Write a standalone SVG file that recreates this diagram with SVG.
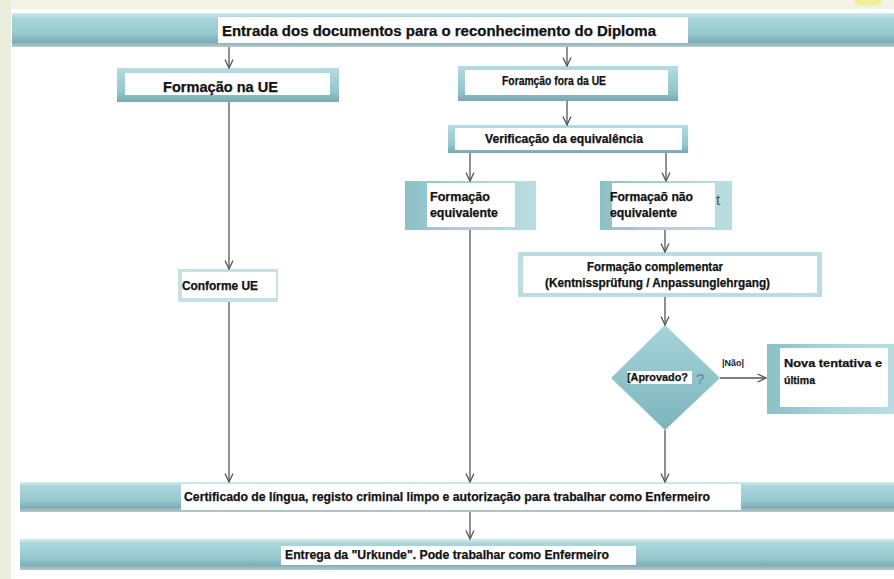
<svg xmlns="http://www.w3.org/2000/svg" width="894" height="579" viewBox="0 0 894 579">
<style>
.t{font-family:"Liberation Sans Narrow","Liberation Sans",Arial,sans-serif;font-weight:bold;fill:#111;stroke:#111;stroke-width:0.25}
.c{stroke:#555;stroke-width:1.3;fill:none}
.w{fill:#fff}
</style>
<defs>
<linearGradient id="band" x1="0" y1="0" x2="0" y2="1">
<stop offset="0" stop-color="#d3ebee"/>
<stop offset="0.15" stop-color="#a8d6dc"/>
<stop offset="0.6" stop-color="#98c9cf"/>
<stop offset="0.85" stop-color="#7eafb7"/>
<stop offset="1" stop-color="#b9c9cc"/>
</linearGradient>
<linearGradient id="box" x1="0" y1="0" x2="0" y2="1">
<stop offset="0" stop-color="#b3dce1"/>
<stop offset="0.7" stop-color="#93c6cd"/>
<stop offset="1" stop-color="#7aa9b0"/>
</linearGradient>
<linearGradient id="boxh" x1="0" y1="0" x2="1" y2="0">
<stop offset="0" stop-color="#8cc0c7"/>
<stop offset="0.5" stop-color="#a9d5da"/>
<stop offset="1" stop-color="#b9dde1"/>
</linearGradient>
<linearGradient id="dia" x1="0" y1="0" x2="0" y2="1">
<stop offset="0" stop-color="#a4d4da"/>
<stop offset="1" stop-color="#7db4bc"/>
</linearGradient>
<marker id="ah" viewBox="0 0 10 10" refX="9.5" refY="5" markerWidth="10" markerHeight="10" markerUnits="userSpaceOnUse" orient="auto">
<path d="M1,1 L9.5,5 L1,9" fill="none" stroke="#555" stroke-width="1.3"/>
</marker>
</defs>
<rect x="0" y="0" width="894" height="579" fill="#fff"/>
<rect x="0" y="0" width="894" height="9" fill="#f3f4e6"/>
<rect x="0" y="0" width="11" height="579" fill="#eceedd"/>
<ellipse cx="868" cy="2" rx="14" ry="4" fill="#f2ee9c"/>

<g id="n-entrada">
<rect x="12" y="13" width="882" height="34" fill="url(#band)"/>
<rect x="218" y="17" width="470" height="26" class="w"/>
<text class="t" x="222" y="36" font-size="14" textLength="434" lengthAdjust="spacingAndGlyphs">Entrada dos documentos para o reconhecimento do Diploma</text>
</g>

<g id="n-formacao-ue">
<rect x="117" y="68" width="222" height="34" fill="url(#box)"/>
<rect x="125" y="73" width="205" height="22" class="w"/>
<text class="t" x="163" y="92" font-size="14" textLength="115" lengthAdjust="spacingAndGlyphs">Formação na UE</text>
</g>

<g id="n-fora-ue">
<rect x="458" y="66" width="220" height="35" fill="url(#box)"/>
<rect x="465" y="70" width="203" height="25" class="w"/>
<text class="t" x="502" y="85" font-size="12" textLength="104" lengthAdjust="spacingAndGlyphs">Foramção fora da UE</text>
</g>

<g id="n-verificacao">
<rect x="448" y="125" width="240" height="28" fill="url(#box)"/>
<rect x="455" y="128" width="227" height="22" class="w"/>
<text class="t" x="485" y="143" font-size="12" textLength="158" lengthAdjust="spacingAndGlyphs">Verificação da equivalência</text>
</g>

<g id="n-equivalente">
<rect x="405" y="181" width="131" height="49" fill="url(#boxh)"/>
<rect x="427" y="183" width="88" height="44" class="w"/>
<text class="t" x="430" y="201" font-size="12" textLength="60" lengthAdjust="spacingAndGlyphs">Formação</text>
<text class="t" x="430" y="217" font-size="12" textLength="68" lengthAdjust="spacingAndGlyphs">equivalente</text>
</g>

<g id="n-nao-equivalente">
<rect x="600" y="181" width="132" height="49" fill="url(#boxh)"/>
<rect x="612" y="183" width="103" height="44" class="w"/>
<text class="t" x="610" y="201" font-size="12" textLength="83" lengthAdjust="spacingAndGlyphs">Formaçaõ não</text>
<text class="t" x="610" y="217" font-size="12" textLength="67" lengthAdjust="spacingAndGlyphs">equivalente</text>
<text x="716" y="205" font-family="Liberation Sans,Arial,sans-serif" font-size="15" fill="#555">t</text>
</g>

<g id="n-complementar">
<rect x="518" y="252" width="304" height="45" fill="#b9dde2"/>
<rect x="523" y="256" width="294" height="37" class="w"/>
<text class="t" x="587" y="271" font-size="12" textLength="136" lengthAdjust="spacingAndGlyphs">Formação complementar</text>
<text class="t" x="545" y="287" font-size="12" textLength="225" lengthAdjust="spacingAndGlyphs">(Kentnissprüfung / Anpassunglehrgang)</text>
</g>

<g id="n-aprovado">
<polygon points="665,325 720,378 665,430 611,378" fill="url(#dia)"/>
<rect x="627" y="371" width="65" height="13" class="w"/>
<text class="t" x="627" y="381" font-size="11" textLength="61" lengthAdjust="spacingAndGlyphs">[Aprovado?</text>
<text x="696" y="384" font-family="Liberation Sans,Arial,sans-serif" font-size="15" fill="#4e8f9a">?</text>
</g>

<g id="n-nova">
<rect x="767" y="344" width="127" height="70" fill="url(#boxh)"/>
<rect x="780" y="348" width="108" height="59" class="w"/>
<text class="t" x="784" y="367" font-size="11.5" textLength="98" lengthAdjust="spacingAndGlyphs">Nova tentativa e</text>
<text class="t" x="784" y="384" font-size="11.5" textLength="31" lengthAdjust="spacingAndGlyphs">última</text>
</g>

<g id="n-conforme">
<rect x="178" y="269" width="100" height="33" fill="#c4e2e6"/>
<rect x="182" y="272" width="94" height="26" class="w"/>
<text class="t" x="182" y="290" font-size="12" textLength="76" lengthAdjust="spacingAndGlyphs">Conforme UE</text>
</g>

<g id="n-certificado">
<rect x="20" y="482" width="874" height="30" fill="url(#band)"/>
<rect x="181" y="484" width="560" height="26" class="w"/>
<text class="t" x="184" y="501" font-size="13" textLength="526" lengthAdjust="spacingAndGlyphs">Certificado de língua, registo criminal limpo e autorização para trabalhar como Enfermeiro</text>
</g>

<g id="n-entrega">
<rect x="20" y="539" width="874" height="31" fill="url(#band)"/>
<rect x="281" y="546" width="355" height="19" class="w"/>
<text class="t" x="285" y="559" font-size="13" textLength="324" lengthAdjust="spacingAndGlyphs">Entrega da "Urkunde". Pode trabalhar como Enfermeiro</text>
</g>

<g id="connectors">
<line class="c" x1="229" y1="47" x2="229" y2="68" marker-end="url(#ah)"/>
<line class="c" x1="567" y1="47" x2="567" y2="66" marker-end="url(#ah)"/>
<line class="c" x1="229" y1="102" x2="229" y2="269" marker-end="url(#ah)"/>
<line class="c" x1="567" y1="101" x2="567" y2="125" marker-end="url(#ah)"/>
<line class="c" x1="470" y1="153" x2="470" y2="181" marker-end="url(#ah)"/>
<line class="c" x1="666" y1="153" x2="666" y2="181" marker-end="url(#ah)"/>
<line class="c" x1="665" y1="230" x2="665" y2="252" marker-end="url(#ah)"/>
<line class="c" x1="665" y1="297" x2="665" y2="325" marker-end="url(#ah)"/>
<line class="c" x1="720" y1="378" x2="766" y2="378" marker-end="url(#ah)"/>
<text x="722" y="366" font-family="Liberation Sans,Arial,sans-serif" font-weight="bold" font-size="9" fill="#1a1a1a">|Não|</text>
<line class="c" x1="229" y1="302" x2="229" y2="482" marker-end="url(#ah)"/>
<line class="c" x1="470" y1="230" x2="470" y2="482" marker-end="url(#ah)"/>
<line class="c" x1="665" y1="430" x2="665" y2="482" marker-end="url(#ah)"/>
<line class="c" x1="470" y1="512" x2="470" y2="539" marker-end="url(#ah)"/>
</g>
</svg>
